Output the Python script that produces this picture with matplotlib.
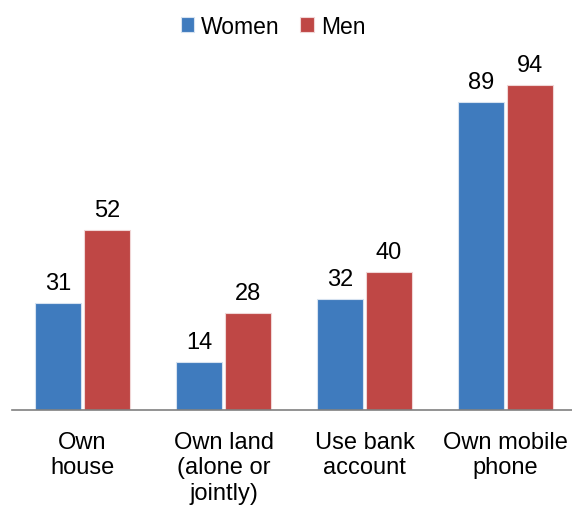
import matplotlib.pyplot as plt
import numpy as np

plt.rcParams['font.family'] = ['Liberation Sans', 'DejaVu Sans']

categories = ['Own\nhouse', 'Own land\n(alone or\njointly)', 'Use bank\naccount', 'Own mobile\nphone']
women = [31, 14, 32, 89]
men = [52, 28, 40, 94]

blue = '#3F7BBE'
red = '#BF4745'

fig = plt.figure(figsize=(5.72, 5.06), dpi=100)
# axes placed in pixel terms: baseline at y=411, top at 65, left at 12
ax = fig.add_axes([12 / 572, (506 - 411) / 506, 560 / 572, 346 / 506])

x = np.arange(len(categories))
w = 0.32
off = 0.174
b1 = ax.bar(x - off, women, w, color=blue, edgecolor='#D6E2F0', linewidth=0.8, label='Women')
b2 = ax.bar(x + off, men, w, color=red, edgecolor='#F0D6D6', linewidth=0.8, label='Men')

for bars, vals in ((b1, women), (b2, men)):
    for rect, v in zip(bars, vals):
        ax.text(rect.get_x() + rect.get_width() / 2, v + 2.6, str(v),
                ha='center', va='bottom', fontsize=17, color='black')

ax.set_xlim(-0.5, -0.5 + 560 / 141)
ax.set_ylim(0, 100)
ax.set_xticks(x)
ax.set_xticklabels(categories, fontsize=17, linespacing=1.2)
ax.tick_params(axis='x', length=0, pad=15)
ax.set_yticks([])
for s in ['top', 'right', 'left']:
    ax.spines[s].set_visible(False)
ax.spines['bottom'].set_color('#808080')
ax.spines['bottom'].set_linewidth(1.2)

fig.legend(handles=[b1, b2], loc='center', bbox_to_anchor=(273 / 572, 1 - 27 / 506),
           ncol=2, frameon=False, fontsize=16.5, handlelength=0.6, handleheight=0.6,
           handletextpad=0.3, columnspacing=0.9)

fig.savefig('out.png', dpi=100)
